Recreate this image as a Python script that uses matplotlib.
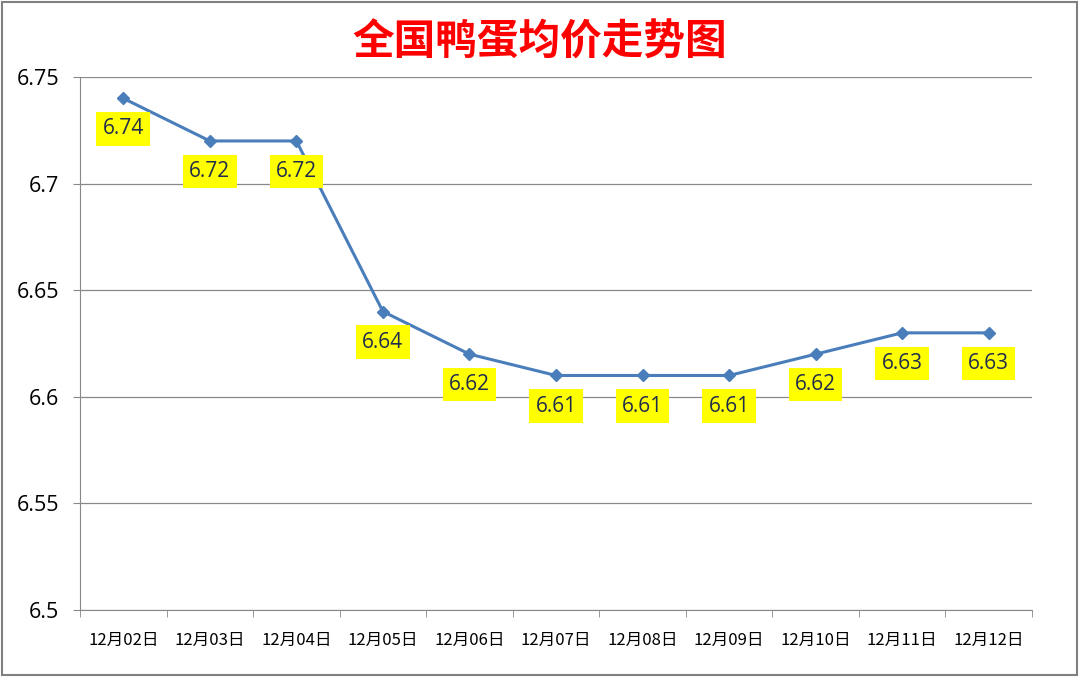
import matplotlib.pyplot as plt
from matplotlib.patches import Rectangle

# dati
dates = ['12月02日', '12月03日', '12月04日', '12月05日', '12月06日', '12月07日',
         '12月08日', '12月09日', '12月10日', '12月11日', '12月12日']
prices = [6.74, 6.72, 6.72, 6.64, 6.62, 6.61, 6.61, 6.61, 6.62, 6.63, 6.63]
y_ticks = [6.5, 6.55, 6.6, 6.65, 6.7, 6.75]
y_labels = ['6.5', '6.55', '6.6', '6.65', '6.7', '6.75']

plt.rcParams['font.family'] = ['Noto Sans CJK SC', 'DejaVu Sans']

fig = plt.figure(figsize=(10.8, 6.77), dpi=100)
ax = fig.add_axes([80 / 1080, 1 - 610 / 677, 952 / 1080, 533 / 677])

x = list(range(len(dates)))
ax.plot(x, prices, color='#4A7EBB', linewidth=2.2, marker='D', markersize=6,
        zorder=3)

for xi, v in zip(x, prices):
    ax.annotate(f'{v:.2f}', (xi, v), xytext=(0, -22), textcoords='offset points',
                ha='center', va='center', fontsize=15, color='#1F2D4D',
                family=['Open Sans', 'DejaVu Sans'],
                bbox=dict(boxstyle='square,pad=0.3', fc='#FFFF00', ec='none'),
                zorder=4)

ax.set_xlim(-0.5, len(dates) - 0.5)
ax.set_ylim(6.5, 6.75)
ax.set_yticks(y_ticks)
ax.set_yticklabels(y_labels, family=['Open Sans', 'DejaVu Sans'], fontsize=15.5)
ax.set_xticks(x)
ax.set_xticklabels(dates, fontsize=12)
ax.set_xticks([i - 0.5 for i in range(len(dates) + 1)], minor=True)
ax.tick_params(axis='x', which='major', length=0, pad=16)
ax.tick_params(axis='x', which='minor', length=5, color='#888888')
ax.tick_params(axis='y', length=5, color='#888888', pad=10)

ax.grid(axis='y', color='#888888', linewidth=0.9)
ax.set_axisbelow(True)
for s in ['top', 'right']:
    ax.spines[s].set_visible(False)
for s in ['left', 'bottom']:
    ax.spines[s].set_color('#888888')

fig.text(0.5, 1 - 43 / 677, '全国鸭蛋均价走势图', ha='center', va='center',
         fontsize=30, fontweight='bold', color='#FF0000')

fig.patches.append(Rectangle((0.002, 0.003), 0.995, 0.994, transform=fig.transFigure,
                             fill=False, ec='#808080', lw=1.5))

fig.savefig('out.png', dpi=100)
